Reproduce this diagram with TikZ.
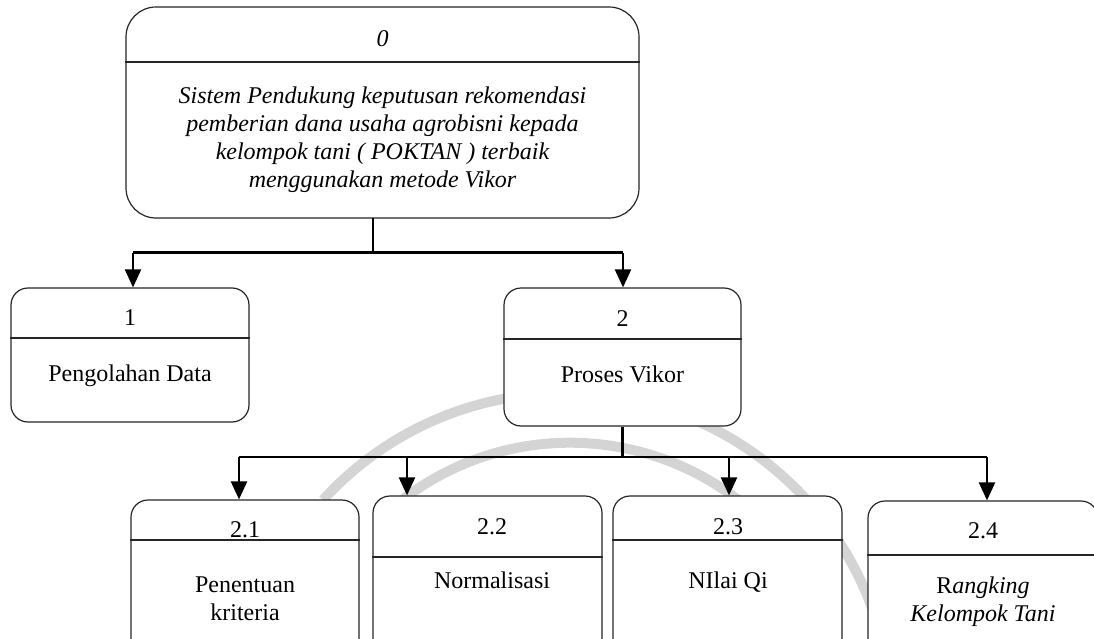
\documentclass[tikz,border=0pt]{standalone}
\usepackage{fontspec}
\setmainfont{Liberation Serif}
\usetikzlibrary{arrows.meta}
\begin{document}
\begin{tikzpicture}[x=1pt,y=-1pt,
  box/.style={draw=black!85, line width=1.2pt, rounded corners=17pt, fill=white, inner sep=0pt},
  divl/.style={line width=1.2pt, black!85},
  conn/.style={line width=2.3pt, black},
  arr/.style={conn, -{Triangle[length=18pt,width=16pt]}},
  wm/.style={line width=10pt, black!17},
  txt/.style={inner sep=0pt, font=\fontsize{24}{28}\selectfont, align=center},
  itxt/.style={txt, font=\fontsize{24}{28}\selectfont\itshape}]
\useasboundingbox (0,0) rectangle (1094,639);
\clip (0,0) rectangle (1094,639);
% watermark
\draw[wm] (323,500) arc[start angle=-137.7, end angle=-8, radius=327];
\draw[wm] (397,504) arc[start angle=-129, end angle=-12, radius=275];
% boxes
\node[box, rounded corners=30pt, minimum width=513pt, minimum height=211pt] (top) at (382.5,112.5) {};
\node[box, minimum width=238pt, minimum height=134pt] (b1) at (130,355) {};
\node[box, minimum width=237pt, minimum height=138pt] (b2) at (622.5,357) {};
\node[box, minimum width=228pt, minimum height=160pt] (b21) at (245,580) {};
\node[box, minimum width=229pt, minimum height=164pt] (b22) at (487.5,578) {};
\node[box, minimum width=229pt, minimum height=164pt] (b23) at (727.5,578) {};
\node[box, minimum width=230pt, minimum height=159pt] (b24) at (983,580.5) {};
% dividers
\draw[divl] (top.west |- 0,62) -- (top.east |- 0,62);
\draw[divl] (b1.west |- 0,338) -- (b1.east |- 0,338);
\draw[divl] (b2.west |- 0,339) -- (b2.east |- 0,339);
\draw[divl] (b21.west |- 0,540) -- (b21.east |- 0,540);
\draw[divl] (b22.west |- 0,557) -- (b22.east |- 0,557);
\draw[divl] (b23.west |- 0,540) -- (b23.east |- 0,540);
\draw[divl] (b24.west |- 0,555) -- (b24.east |- 0,555);
% texts
\node[itxt, anchor=base] (t0n) at (382.5,47) {0};
\node[itxt] (t0t) at (382.5,140) {Sistem Pendukung keputusan rekomendasi\\pemberian dana usaha agrobisni kepada\\kelompok tani ( POKTAN ) terbaik\\menggunakan metode Vikor};
\node[txt, anchor=base] (t1n) at (130,325) {1};
\node[txt, anchor=base] (t1t) at (130,381) {Pengolahan Data};
\node[txt, anchor=base] (t2n) at (622.5,326) {2};
\node[txt, anchor=base] (t2t) at (622.5,382) {Proses Vikor};
\node[txt, anchor=base] (t21n) at (245,537) {2.1};
\node[txt] (t21t) at (245,599) {Penentuan\\kriteria};
\node[txt, anchor=base] (t22n) at (492,534) {2.2};
\node[txt, anchor=base] (t22t) at (492,588) {Normalisasi};
\node[txt, anchor=base] (t23n) at (728,534) {2.3};
\node[txt, anchor=base] (t23t) at (728,588) {NIlai Qi};
\node[txt, anchor=base] (t24n) at (983,538) {2.4};
\node[txt] (t24t) at (983,602) {R\textit{angking}\\\textit{Kelompok Tani}};
% connectors
\coordinate (s0) at (373,218);
\coordinate (j0) at (373,252.5);
\coordinate (h1) at (133,252.5);
\coordinate (h2) at (623,252.5);
\draw[conn] (s0) -- (j0);
\draw[conn] (h1) -- (h2);
\draw[arr] (h1) -- (h1 |- b1.north);
\draw[arr] (h2) -- (h2 |- b2.north);
\coordinate (j2) at (b2.south |- 0,457);
\coordinate (h21) at (239,457);
\coordinate (h22) at (407,457);
\coordinate (h23) at (729,457);
\coordinate (h24) at (987,457);
\draw[conn] (b2.south) -- (j2);
\draw[conn] (h21) -- (h24);
\draw[arr] (h21) -- (h21 |- b21.north);
\draw[arr] (h22) -- (h22 |- b22.north);
\draw[arr] (h23) -- (h23 |- b23.north);
\draw[arr] (h24) -- (h24 |- b24.north);
\end{tikzpicture}
\end{document}
